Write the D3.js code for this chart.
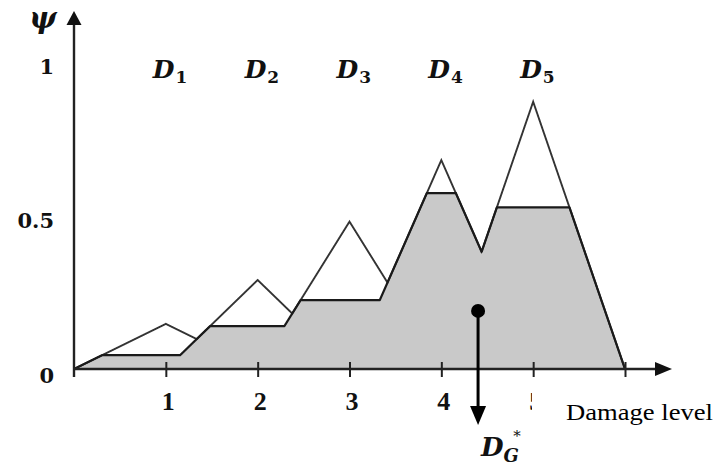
<!DOCTYPE html>
<html>
<head>
<meta charset="utf-8" />
<script src="https://d3js.org/d3.v7.min.js"></script>
<style>
    body { margin: 0; background: #fff; }
    svg { display: block; }
    .tick line { stroke: #222; stroke-width: 2; }
</style>
</head>
<body>
<svg id="chart" width="714" height="468"></svg>
<script>
// damage states: triangular membership functions and their cut levels
var stateNames = ["1", "2", "3", "4", "5"];
var footLeft  = [0, 1, 2, 3, 4];
var peakAt    = [1, 2, 3, 4, 5];
var footRight = [2, 3, 4, 5, 6];
var peakPsi   = [0.146, 0.288, 0.477, 0.676, 0.865];
var cutPsi    = [0.045, 0.139, 0.223, 0.569, 0.523];

// defuzzified damage level (centroid)
var dStar = 4.4;
var dStarPsi = 0.188;

var xTicks = [1, 2, 3, 4, 5, 6];
var yTicks = [0, 0.5, 1];

var svg = d3.select("#chart");

var x = d3.scaleLinear().domain([0, 6]).range([74, 625]);
var y = d3.scaleLinear().domain([0, 1]).range([369, 60]);

function tri(i, v) {
    if (v <= footLeft[i] || v >= footRight[i]) return 0;
    if (v <= peakAt[i]) return peakPsi[i] * (v - footLeft[i]) / (peakAt[i] - footLeft[i]);
    return peakPsi[i] * (footRight[i] - v) / (footRight[i] - peakAt[i]);
}

var samples = d3.range(0, 6.0001, 0.002);
var outer = samples.map(function(v) {
    return { v: v, psi: d3.max(stateNames, function(s, i) { return tri(i, v); }) };
});
var inner = samples.map(function(v) {
    return { v: v, psi: d3.max(stateNames, function(s, i) { return Math.min(tri(i, v), cutPsi[i]); }) };
});

// grey aggregated area
svg.append("path")
    .datum(inner)
    .attr("fill", "#c9c9c9")
    .attr("d", d3.area()
        .x(function(d) { return x(d.v); })
        .y0(y(0))
        .y1(function(d) { return y(d.psi); }));

// outline of the membership triangles
svg.append("path")
    .datum(outer)
    .attr("fill", "none")
    .attr("stroke", "#333")
    .attr("stroke-width", 1.9)
    .attr("d", d3.line()
        .x(function(d) { return x(d.v); })
        .y(function(d) { return y(d.psi); }));

// top edge of the cut area
svg.append("path")
    .datum(inner)
    .attr("fill", "none")
    .attr("stroke", "#1a1a1a")
    .attr("stroke-width", 2.2)
    .attr("d", d3.line()
        .x(function(d) { return x(d.v); })
        .y(function(d) { return y(d.psi); }));

// x axis ticks + labels
var xAxis = svg.append("g")
    .attr("transform", "translate(0," + y(0) + ")")
    .call(d3.axisBottom(x)
        .tickValues(xTicks)
        .tickSizeOuter(0)
        .tickFormat(function(d) { return d < 6 ? d : ""; }));
xAxis.select(".domain").remove();
xAxis.selectAll(".tick line").attr("y1", -7).attr("y2", 8);
xAxis.selectAll(".tick text")
    .attr("y", 41)
    .attr("dy", 0)
    .attr("dx", 2)
    .attr("fill", "#111")
    .style("font-family", "'Liberation Serif', serif")
    .style("font-weight", "bold")
    .style("font-size", "26px");

// y axis labels
var yAxis = svg.append("g")
    .attr("transform", "translate(" + x(0) + ",0)")
    .call(d3.axisLeft(y).tickValues(yTicks).tickSize(0).tickFormat(function(d) { return d; }));
yAxis.select(".domain").remove();
yAxis.selectAll(".tick text")
    .attr("x", -20)
    .attr("dy", "0.62em")
    .attr("fill", "#111")
    .style("font-family", "'DejaVu Serif', serif")
    .style("font-weight", "bold")
    .style("font-size", "21px");

// axis lines with arrows
svg.append("line")
    .attr("x1", x(0)).attr("y1", y(0))
    .attr("x2", 658).attr("y2", y(0))
    .attr("stroke", "#222").attr("stroke-width", 2.4);
svg.append("path")
    .attr("d", "M655," + (y(0) - 7) + "L672," + y(0) + "L655," + (y(0) + 7) + "Z")
    .attr("fill", "#111");
svg.append("line")
    .attr("x1", x(0)).attr("y1", y(0) + 8)
    .attr("x2", x(0)).attr("y2", 24)
    .attr("stroke", "#222").attr("stroke-width", 2.4);
svg.append("path")
    .attr("d", "M" + (x(0) - 7.5) + ",25L" + x(0) + ",11L" + (x(0) + 7.5) + ",25Z")
    .attr("fill", "#111");

svg.append("text")
    .attr("x", 43).attr("y", 28)
    .attr("text-anchor", "middle")
    .attr("fill", "#111")
    .style("font-family", "'DejaVu Serif', serif")
    .style("font-style", "italic")
    .style("font-weight", "bold")
    .style("font-size", "29px")
    .text("\u03C8");

// damage state labels
var stateLabels = svg.selectAll(".state")
    .data(stateNames)
    .enter().append("text")
    .attr("class", "state")
    .attr("x", function(d, i) { return x(peakAt[i]) - 13; })
    .attr("y", 78)
    .attr("fill", "#111")
    .style("font-family", "'DejaVu Serif', serif")
    .style("font-weight", "bold");
stateLabels.append("tspan")
    .style("font-style", "italic")
    .style("font-size", "25px")
    .text("D");
stateLabels.append("tspan")
    .attr("dx", 1)
    .attr("dy", 5)
    .style("font-size", "17px")
    .text(function(d) { return d; });

// "Damage level" box covering part of the 5 label
svg.append("rect")
    .attr("x", 532).attr("y", 383)
    .attr("width", 182).attr("height", 50)
    .attr("fill", "#fff");
svg.append("text")
    .attr("x", 566).attr("y", 420)
    .attr("textLength", 147)
    .attr("lengthAdjust", "spacingAndGlyphs")
    .style("font-family", "'Liberation Serif', serif")
    .style("font-size", "23px")
    .text("Damage level");

// defuzzified point and arrow
svg.append("line")
    .attr("x1", x(dStar)).attr("y1", y(dStarPsi))
    .attr("x2", x(dStar)).attr("y2", 408)
    .attr("stroke", "#000").attr("stroke-width", 3);
svg.append("path")
    .attr("d", "M" + (x(dStar) - 8) + ",406L" + x(dStar) + ",425L" + (x(dStar) + 8) + ",406Z")
    .attr("fill", "#000");
svg.append("circle")
    .attr("cx", x(dStar)).attr("cy", y(dStarPsi))
    .attr("r", 7)
    .attr("fill", "#000");

var dg = svg.append("text")
    .attr("x", x(dStar) + 3)
    .attr("y", 456)
    .attr("fill", "#111")
    .style("font-family", "'DejaVu Serif', serif")
    .style("font-weight", "bold")
    .style("font-style", "italic");
dg.append("tspan").style("font-size", "26px").text("D");
dg.append("tspan").attr("dy", 6).style("font-size", "18px").text("G");
svg.append("text")
    .attr("x", x(dStar) + 39)
    .attr("y", 441)
    .attr("text-anchor", "middle")
    .attr("fill", "#111")
    .style("font-family", "'DejaVu Serif', serif")
    .style("font-size", "15px")
    .text("*");
</script>
</body>
</html>
